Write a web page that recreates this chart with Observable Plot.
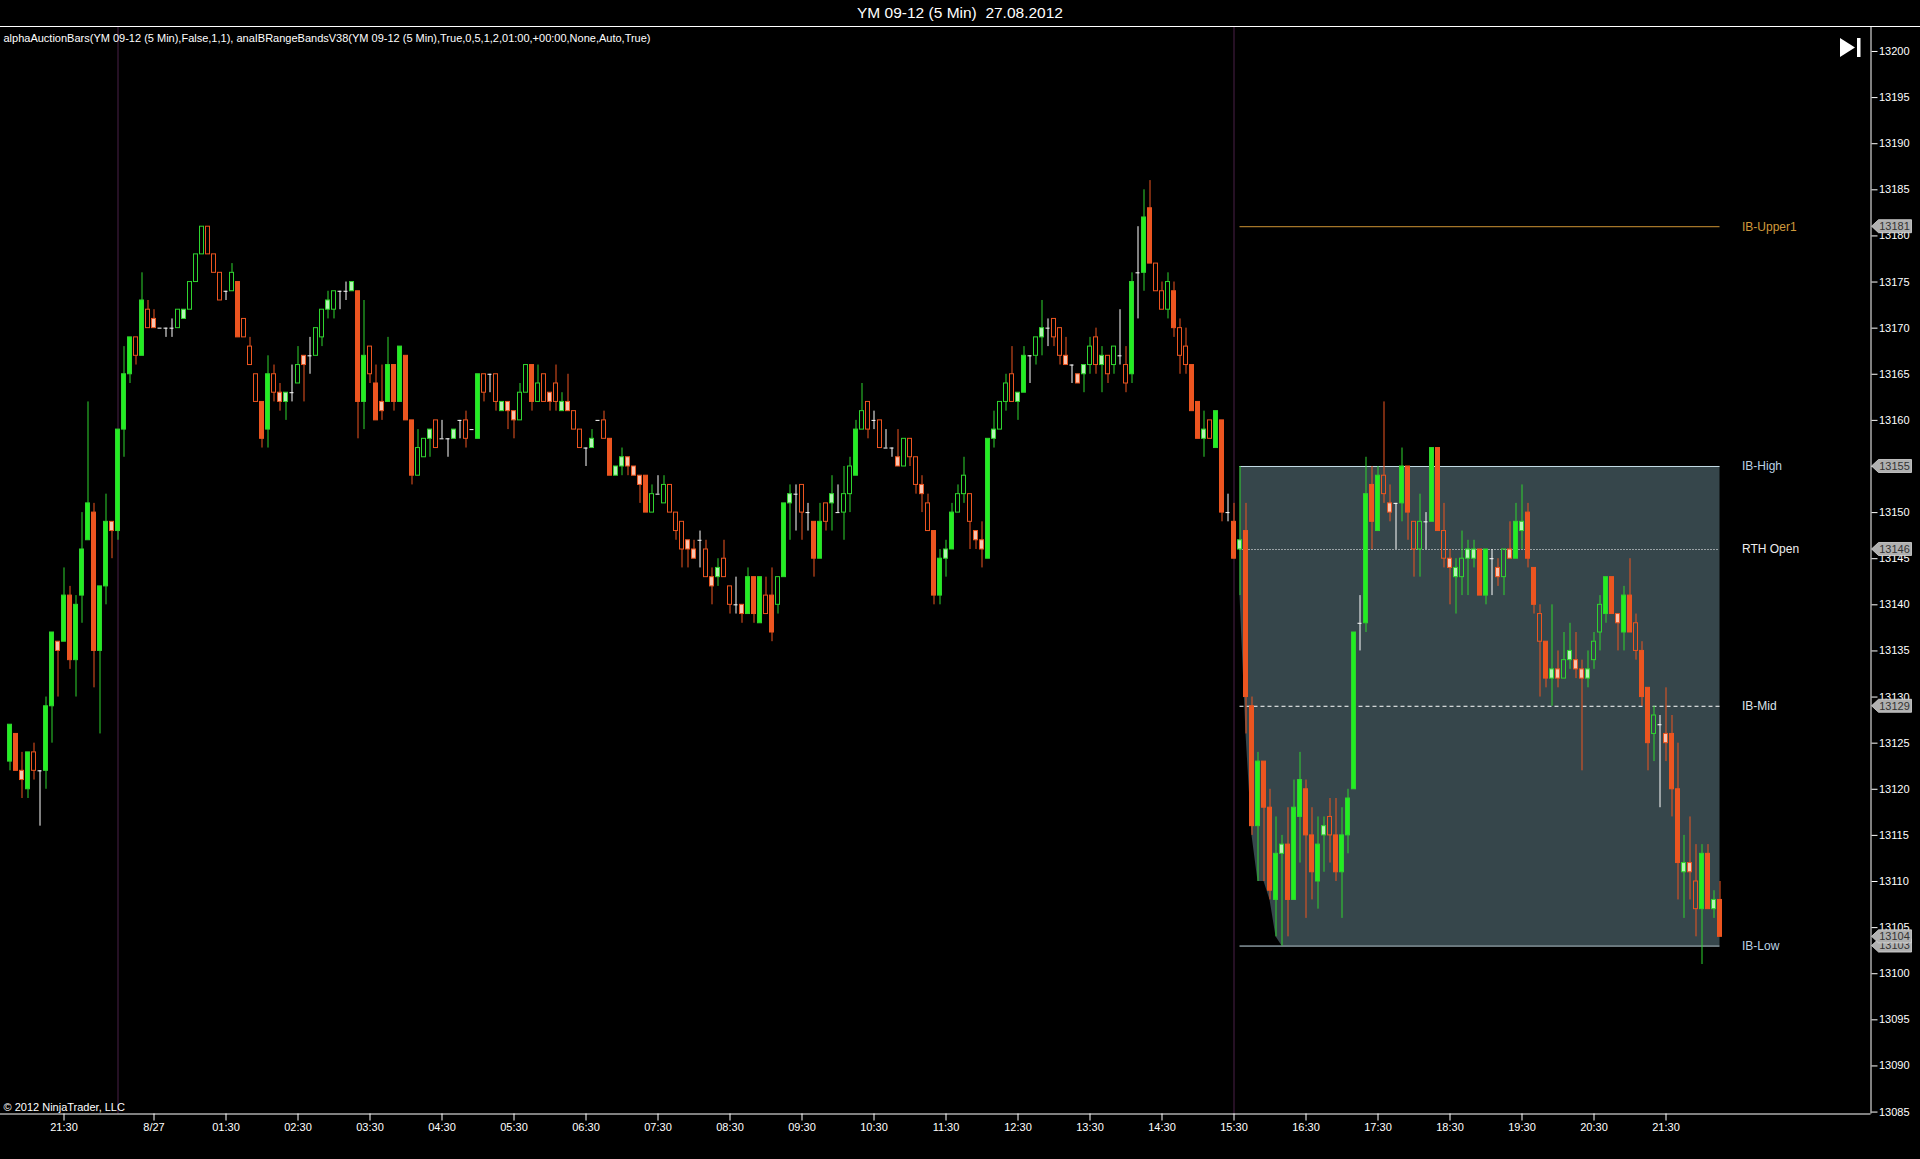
<!DOCTYPE html>
<html><head><meta charset="utf-8">
<script src="https://cdn.jsdelivr.net/npm/d3@7"></script>
<script src="https://cdn.jsdelivr.net/npm/@observablehq/plot@0.6"></script>
<style>
html,body{margin:0;padding:0;background:#000;}
#title{height:26px;line-height:26px;border-bottom:1px solid #fff;color:#fff;font:15.5px "Liberation Sans",Arial,sans-serif;text-align:center;white-space:pre;overflow:hidden;}
#title span{position:relative;top:4px;}
#chart svg{display:block;}
</style></head><body>
<div id="title"><span>YM 09-12 (5 Min)  27.08.2012</span></div>
<div id="chart"></div>
<script>
// ---- data: 5-minute bars, YM 09-12 (bar index 0 = 20:45 on 26.08) ----
const opens = [13123,13126,13122,13120,13124,13122,13122,13129,13136,13136,
13141,13134,13141,13147,13150,13135,13142,13149,13148,13159,
13165,13169,13167,13172,13171,13170,13170,13170,13170,13171,
13172,13175,13178,13181,13178,13176,13174,13174,13175,13171,
13168,13165,13162,13159,13165,13163,13162,13163,13164,13167,
13167,13167,13169,13172,13172,13174,13174,13174,13174,13162,
13168,13164,13162,13162,13166,13162,13167,13160,13154,13156,
13158,13160,13158,13158,13158,13160,13160,13159,13158,13165,
13165,13165,13161,13162,13161,13160,13163,13166,13162,13165,
13163,13164,13161,13162,13161,13159,13157,13157,13160,13160,
13158,13154,13155,13156,13155,13154,13154,13150,13152,13151,
13153,13150,13149,13147,13146,13147,13146,13143,13143,13145,
13142,13140,13140,13139,13143,13138,13141,13141,13140,13143,
13151,13152,13153,13150,13149,13145,13151,13151,13150,13150,
13152,13154,13159,13162,13160,13160,13157,13157,13156,13155,
13158,13156,13153,13151,13148,13141,13145,13146,13150,13152,
13152,13148,13147,13145,13158,13159,13162,13165,13162,13163,
13167,13167,13169,13170,13171,13170,13167,13166,13165,13165,
13166,13169,13166,13167,13166,13167,13166,13165,13176,13176,
13183,13177,13174,13172,13174,13170,13168,13166,13162,13158,
13160,13157,13160,13150,13149,13146,13148,13129,13116,13123,
13118,13108,13113,13114,13108,13117,13120,13115,13110,13115,
13117,13115,13111,13115,13120,13138,13138,13153,13148,13154,
13151,13151,13151,13155,13149,13146,13149,13149,13157,13148,
13145,13143,13143,13145,13145,13146,13141,13145,13144,13143,
13146,13145,13148,13150,13144,13139,13136,13132,13133,13132,
13134,13134,13133,13132,13134,13137,13139,13143,13139,13137,
13141,13138,13135,13131,13126,13127,13126,13126,13120,13111,
13112,13110,13107,13113,13107,13108];
const highs = [13127,13126,13124,13124,13125,13122,13130,13137,13136,13144,
13142,13141,13150,13162,13151,13142,13152,13149,13159,13168,
13169,13169,13176,13173,13172,13170,13170,13171,13172,13172,
13175,13178,13181,13181,13178,13176,13174,13177,13175,13171,
13169,13165,13162,13167,13166,13164,13163,13166,13168,13167,
13169,13170,13172,13174,13174,13174,13175,13175,13174,13173,
13168,13166,13166,13169,13166,13168,13167,13160,13159,13158,
13159,13160,13160,13158,13159,13160,13161,13159,13165,13165,
13165,13165,13162,13162,13161,13164,13166,13166,13166,13165,
13163,13166,13163,13165,13161,13159,13157,13159,13160,13161,
13158,13155,13157,13156,13155,13154,13154,13153,13154,13154,
13153,13150,13149,13147,13147,13148,13147,13144,13145,13147,
13142,13143,13140,13144,13143,13143,13143,13144,13143,13151,
13153,13153,13153,13151,13149,13151,13151,13154,13153,13155,
13156,13160,13164,13162,13161,13160,13159,13157,13159,13158,
13158,13156,13154,13152,13148,13146,13147,13151,13153,13156,
13152,13148,13149,13158,13161,13162,13165,13168,13163,13168,
13167,13169,13173,13171,13171,13170,13169,13166,13165,13166,
13169,13170,13168,13167,13168,13172,13168,13176,13181,13185,
13186,13177,13175,13176,13175,13171,13170,13166,13162,13161,
13160,13161,13160,13152,13151,13155,13151,13130,13124,13123,
13120,13117,13115,13118,13121,13124,13121,13118,13117,13117,
13119,13119,13118,13120,13137,13141,13156,13155,13155,13162,
13153,13151,13157,13155,13149,13152,13150,13157,13157,13151,
13146,13145,13148,13147,13147,13146,13146,13146,13145,13146,
13149,13151,13153,13151,13144,13140,13136,13140,13135,13137,
13138,13137,13134,13135,13137,13141,13143,13143,13139,13142,
13145,13139,13136,13131,13129,13128,13131,13128,13125,13115,
13117,13114,13114,13114,13109,13110];
const lows = [13122,13122,13119,13119,13121,13116,13120,13125,13130,13136,
13133,13130,13138,13147,13131,13126,13140,13145,13147,13156,
13164,13166,13167,13170,13170,13170,13169,13169,13170,13171,
13172,13175,13178,13178,13176,13173,13173,13174,13169,13169,
13166,13162,13157,13157,13162,13161,13160,13162,13164,13162,
13165,13167,13168,13171,13171,13172,13173,13174,13158,13159,
13164,13160,13160,13162,13161,13162,13160,13153,13154,13156,
13156,13157,13158,13156,13158,13158,13157,13159,13158,13162,
13163,13161,13161,13159,13158,13160,13163,13161,13162,13162,
13161,13161,13161,13161,13159,13157,13155,13157,13160,13158,
13154,13154,13154,13154,13154,13151,13150,13150,13152,13151,
13150,13147,13144,13144,13145,13144,13143,13140,13142,13143,
13139,13139,13138,13139,13138,13138,13139,13136,13139,13143,
13147,13148,13147,13148,13143,13145,13148,13148,13150,13147,
13150,13154,13159,13158,13159,13157,13157,13156,13155,13155,
13155,13152,13150,13148,13140,13140,13143,13146,13150,13151,
13146,13146,13144,13145,13157,13159,13161,13162,13160,13163,
13164,13166,13167,13168,13168,13166,13166,13164,13164,13163,
13165,13165,13163,13164,13165,13166,13163,13164,13171,13174,
13177,13174,13172,13171,13169,13165,13165,13161,13158,13156,
13158,13157,13149,13149,13145,13141,13126,13115,13110,13110,
13108,13104,13103,13104,13108,13112,13106,13108,13107,13111,
13112,13110,13106,13113,13120,13135,13137,13146,13148,13151,
13149,13146,13149,13147,13143,13143,13146,13149,13148,13144,
13140,13139,13141,13141,13144,13141,13140,13141,13142,13141,
13145,13145,13146,13144,13139,13130,13131,13129,13131,13132,
13133,13132,13122,13131,13133,13135,13138,13139,13135,13135,
13137,13134,13129,13122,13123,13118,13123,13117,13108,13106,
13108,13104,13101,13107,13106,13104];
const closes = [13127,13122,13121,13124,13122,13122,13129,13137,13135,13141,
13134,13140,13146,13151,13135,13142,13149,13148,13159,13165,
13169,13167,13173,13170,13170,13170,13170,13170,13172,13172,
13175,13178,13181,13178,13176,13173,13174,13176,13169,13169,
13166,13162,13158,13165,13163,13162,13163,13163,13166,13166,
13167,13170,13172,13173,13174,13174,13174,13175,13162,13167,
13165,13160,13161,13166,13162,13168,13160,13154,13157,13158,
13159,13157,13158,13158,13159,13160,13158,13159,13165,13163,
13165,13162,13162,13161,13160,13163,13166,13162,13164,13162,
13162,13162,13162,13161,13159,13157,13157,13158,13160,13158,
13154,13155,13156,13155,13154,13153,13150,13152,13152,13153,
13150,13148,13146,13146,13145,13147,13143,13142,13144,13143,
13140,13140,13139,13143,13139,13143,13139,13137,13143,13151,
13152,13152,13150,13150,13145,13149,13149,13152,13150,13152,
13155,13159,13161,13159,13160,13157,13157,13157,13155,13158,
13156,13153,13152,13148,13141,13145,13146,13150,13152,13154,
13149,13147,13146,13158,13159,13162,13164,13162,13163,13167,
13167,13169,13170,13170,13169,13167,13166,13166,13164,13166,
13168,13166,13167,13165,13168,13167,13164,13175,13176,13182,
13177,13174,13172,13175,13170,13167,13166,13161,13158,13159,
13158,13161,13150,13150,13145,13147,13130,13116,13123,13118,
13109,13113,13114,13108,13118,13121,13115,13111,13114,13116,
13115,13111,13115,13119,13137,13138,13152,13149,13154,13152,
13150,13151,13155,13150,13146,13149,13149,13157,13148,13145,
13144,13144,13145,13146,13146,13141,13146,13145,13143,13146,
13145,13149,13149,13145,13140,13136,13132,13133,13132,13134,
13135,13133,13132,13133,13136,13140,13143,13139,13138,13141,
13137,13135,13130,13125,13128,13127,13125,13120,13112,13112,
13111,13107,13113,13107,13108,13104];

const sessionBreaks = [18, 204];          // session start / RTH open bars
const rthStart = 205;                     // first RTH bar (15:35)
const ibLength = 12;                      // initial balance = 01:00 = 12 bars
const ibExtension = 0.5;                  // IB-Upper1 multiplier
const tickIndex = [9,24,36,48,60,72,84,96,108,120,132,144,156,168,180,192,204,216,228,240,252,264,276];
const tickLabels = ["21:30","8/27","01:30","02:30","03:30","04:30","05:30","06:30","07:30","08:30","09:30","10:30","11:30","12:30","13:30","14:30","15:30","16:30","17:30","18:30","19:30","20:30","21:30"];
const priceTicks = d3.range(13085, 13201, 5);
const indicatorText = "alphaAuctionBars(YM 09-12 (5 Min),False,1,1), anaIBRangeBandsV38(YM 09-12 (5 Min),True,0,5,1,2,01:00,+00:00,None,Auto,True)";
const copyright = "© 2012 NinjaTrader, LLC";

// ---- derived ----
const bars = opens.map((o, i) => ({i, o, h: highs[i], l: lows[i], c: closes[i]}));
const last = bars.length - 1;
const ibBars = bars.slice(rthStart, rthStart + ibLength);
const ibHigh = d3.max(ibBars, d => d.h);
const ibLow = d3.min(ibBars, d => d.l);
const rthOpen = bars[rthStart].o;
const ibMid = (ibHigh + ibLow) / 2;
const ibUpper1 = ibHigh + ibExtension * (ibHigh - ibLow);
let runHi = -Infinity, runLo = Infinity;
const ibArea = bars.slice(rthStart).map((d, j) => {
  if (j < ibLength) { runHi = Math.max(runHi, d.h); runLo = Math.min(runLo, d.l); }
  return {i: d.i, hi: runHi, lo: runLo};
});
const levels = [
  {label: "IB-Upper1", value: ibUpper1},
  {label: "IB-High", value: ibHigh},
  {label: "RTH Open", value: rthOpen},
  {label: "IB-Mid", value: ibMid},
  {label: "IB-Low", value: ibLow}
];
const labelOf = new Map(tickIndex.map((t, k) => [t, tickLabels[k]]));

const UP = "#2fd42f", UPF = "#22ee22", DN = "#ec5520", DOJI = "#ffffff";
const col = d => d.c > d.o ? UP : d.c < d.o ? DN : DOJI;
const bodyFill = d => {
  const s = Math.abs(d.c - d.o);
  if (s >= 4) return d.c > d.o ? UPF : DN;
  if (s <= 1) return d.c > d.o ? "#b4f4b4" : "#f8c4b0";
  return "none";
};
const levelColor = l => l === "IB-Upper1" ? "#d09a3c" : l === "RTH Open" ? "#eeeeee" : l === "IB-Mid" ? "#dde4ea" : "#bcd2e4";
const levelStroke = l => l === "IB-Upper1" ? "#cf9434" : l === "RTH Open" || l === "IB-Mid" ? "#ffffff" : "#c6dce6";
const halfW = 1/3;

const W = 1920, H = 1132;
const xDomain = [-1.5833333, 310.1666667];
const yDomain = [13084.79, 13202.60];

const plot = Plot.plot({
  width: W, height: H,
  marginLeft: 0, marginRight: 49.5, marginTop: 0, marginBottom: 45.5,
  style: {background: "#000", color: "#fff", fontFamily: "'Liberation Sans', Arial, sans-serif"},
  x: {domain: xDomain, axis: null},
  y: {domain: yDomain, axis: null},
  marks: [
    Plot.areaY(ibArea, {x: "i", y1: "lo", y2: "hi", fill: "#36464b", curve: "linear"}),
    Plot.ruleX(sessionBreaks, {stroke: "#4a2148", strokeWidth: 1}),
    ...levels.map(L => Plot.ruleY([L], {
      y: "value", x1: rthStart, x2: last,
      stroke: levelStroke(L.label), strokeWidth: 1,
      strokeDasharray: L.label === "RTH Open" ? "1,2" : L.label === "IB-Mid" ? "4,3" : null
    })),
    Plot.ruleX(bars, {x: "i", y1: "h", y2: d => Math.max(d.o, d.c), stroke: col, strokeWidth: 1}),
    Plot.ruleX(bars, {x: "i", y1: d => Math.min(d.o, d.c), y2: "l", stroke: col, strokeWidth: 1}),
    Plot.rect(bars.filter(d => d.c !== d.o), {
      x1: d => d.i - halfW, x2: d => d.i + halfW, y1: "o", y2: "c",
      stroke: col, fill: bodyFill, strokeWidth: 1
    }),
    Plot.ruleY(bars.filter(d => d.c === d.o), {y: "o", x1: d => d.i - halfW, x2: d => d.i + halfW, stroke: DOJI}),
    Plot.text(levels, {
      y: "value", text: "label", frameAnchor: "right", dx: -129, textAnchor: "start", lineAnchor: "middle",
      fill: d => levelColor(d.label), fontSize: 12
    }),
    Plot.text([indicatorText], {frameAnchor: "top-left", dx: 3, dy: 11, textAnchor: "start", lineAnchor: "middle", fill: "#fff", fontSize: 11}),
    Plot.text([copyright], {frameAnchor: "bottom-left", dx: 3, dy: -6.5, textAnchor: "start", lineAnchor: "middle", fill: "#fff", fontSize: 11}),
    Plot.ruleX([xDomain[1]], {stroke: "#fff"}),
    Plot.ruleY([yDomain[0]], {stroke: "#fff"}),
    Plot.axisX(tickIndex, {anchor: "bottom", tickFormat: i => labelOf.get(i), tickSize: 7, tickPadding: 2, fontSize: 11, label: null}),
    Plot.axisY(priceTicks, {anchor: "right", tickFormat: d => String(d), tickSize: 6, tickPadding: 2, fontSize: 11, label: null})
  ]
});

document.getElementById("chart").appendChild(plot);

// price tags on the axis and the "go to end" icon
const ys = plot.scale("y");
const svg = d3.select(plot);
const tagVals = [ibUpper1, ibHigh, rthOpen, ibMid, ibLow, closes[last]];
const tg = svg.append("g");
const ax = W - 49.5;
tagVals.forEach(v => {
  const py = ys.apply(v);
  tg.append("path")
    .attr("d", `M${ax + 1},${py} L${ax + 8},${py - 6.5} L${ax + 41},${py - 6.5} L${ax + 41},${py + 6.5} L${ax + 8},${py + 6.5} Z`)
    .attr("fill", "#b0b0b0").attr("stroke", "#d8d8d8").attr("stroke-width", 0.8);
  tg.append("text").attr("x", ax + 24).attr("y", py).attr("dy", "0.35em")
    .attr("text-anchor", "middle").attr("fill", "#333").attr("font-size", 11)
    .attr("font-family", "'Liberation Sans', Arial, sans-serif").text(String(v));
});
svg.append("path").attr("d", "M1840,11 L1840,30 L1855,20.5 Z").attr("fill", "#fff");
svg.append("rect").attr("x", 1857).attr("y", 11).attr("width", 3.5).attr("height", 19).attr("fill", "#fff");
</script>
</body></html>
